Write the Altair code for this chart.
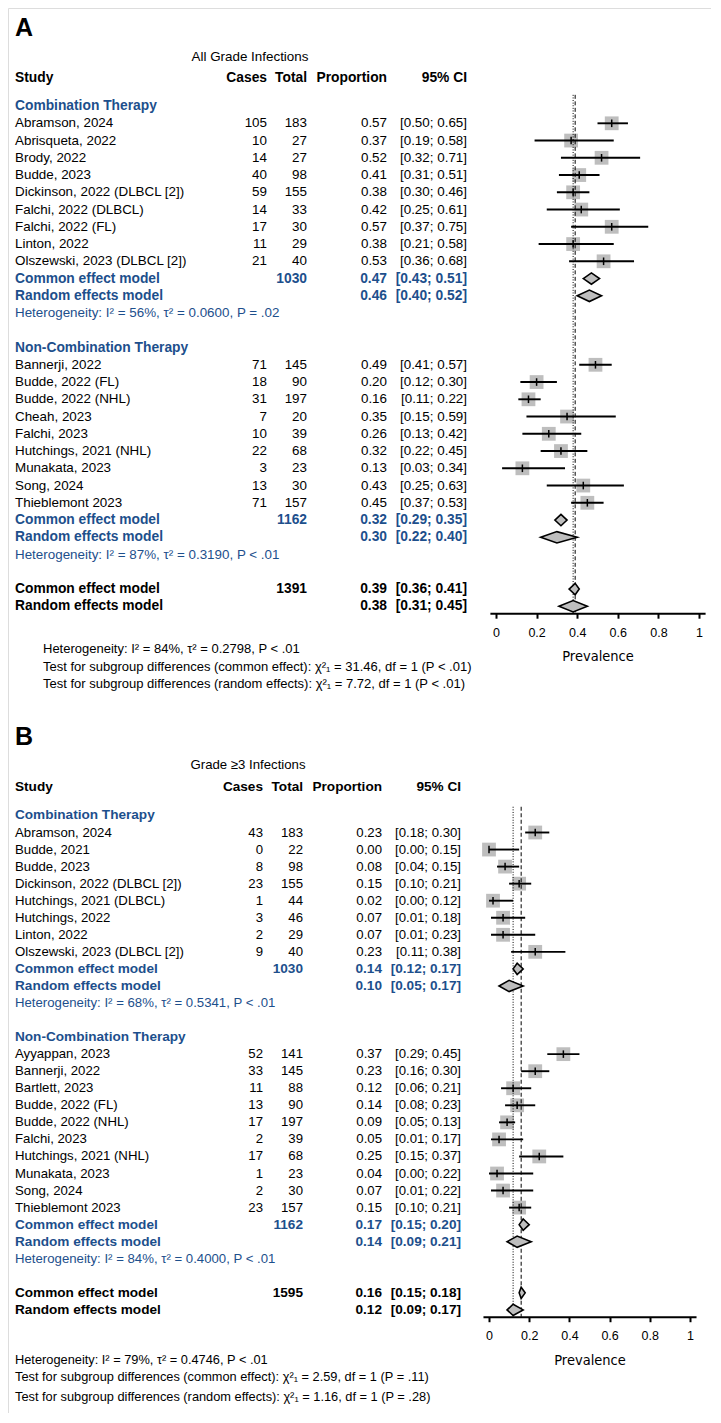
import altair as alt
import pandas as pd

# ============================ PANEL A : All grade infections ============================
A_LETTER = "A"
A_TITLE = "All Grade Infections"
A_G1_NAME = "Combination Therapy"
A_G1_STUDY = ["Abramson, 2024", "Abrisqueta, 2022", "Brody, 2022", "Budde, 2023",
              "Dickinson, 2022 (DLBCL [2])", "Falchi, 2022 (DLBCL)", "Falchi, 2022 (FL)",
              "Linton, 2022", "Olszewski, 2023 (DLBCL [2])"]
A_G1_CASES = [105, 10, 14, 40, 59, 14, 17, 11, 21]
A_G1_TOTAL = [183, 27, 27, 98, 155, 33, 30, 29, 40]
A_G1_PROP = [0.57, 0.37, 0.52, 0.41, 0.38, 0.42, 0.57, 0.38, 0.53]
A_G1_LO = [0.50, 0.19, 0.32, 0.31, 0.30, 0.25, 0.37, 0.21, 0.36]
A_G1_HI = [0.65, 0.58, 0.71, 0.51, 0.46, 0.61, 0.75, 0.58, 0.68]
A_G1_COMMON = [1030, 0.47, 0.43, 0.51]
A_G1_RANDOM = [0.46, 0.40, 0.52]
A_G1_HET = "Heterogeneity: I² = 56%, τ² = 0.0600, P = .02"

A_G2_NAME = "Non-Combination Therapy"
A_G2_STUDY = ["Bannerji, 2022", "Budde, 2022 (FL)", "Budde, 2022 (NHL)", "Cheah, 2023",
              "Falchi, 2023", "Hutchings, 2021 (NHL)", "Munakata, 2023", "Song, 2024",
              "Thieblemont 2023"]
A_G2_CASES = [71, 18, 31, 7, 10, 22, 3, 13, 71]
A_G2_TOTAL = [145, 90, 197, 20, 39, 68, 23, 30, 157]
A_G2_PROP = [0.49, 0.20, 0.16, 0.35, 0.26, 0.32, 0.13, 0.43, 0.45]
A_G2_LO = [0.41, 0.12, 0.11, 0.15, 0.13, 0.22, 0.03, 0.25, 0.37]
A_G2_HI = [0.57, 0.30, 0.22, 0.59, 0.42, 0.45, 0.34, 0.63, 0.53]
A_G2_COMMON = [1162, 0.32, 0.29, 0.35]
A_G2_RANDOM = [0.30, 0.22, 0.40]
A_G2_HET = "Heterogeneity: I² = 87%, τ² = 0.3190, P < .01"

A_ALL_COMMON = [1391, 0.39, 0.36, 0.41]
A_ALL_RANDOM = [0.38, 0.31, 0.45]
A_FOOT = ["Heterogeneity: I² = 84%, τ² = 0.2798, P < .01",
          "Test for subgroup differences (common effect): χ²₁ = 31.46, df = 1 (P < .01)",
          "Test for subgroup differences (random effects): χ²₁ = 7.72, df = 1 (P < .01)"]

# ============================ PANEL B : Grade >=3 infections ============================
B_LETTER = "B"
B_TITLE = "Grade ≥3 Infections"
B_G1_NAME = "Combination Therapy"
B_G1_STUDY = ["Abramson, 2024", "Budde, 2021", "Budde, 2023", "Dickinson, 2022 (DLBCL [2])",
              "Hutchings, 2021 (DLBCL)", "Hutchings, 2022", "Linton, 2022",
              "Olszewski, 2023 (DLBCL [2])"]
B_G1_CASES = [43, 0, 8, 23, 1, 3, 2, 9]
B_G1_TOTAL = [183, 22, 98, 155, 44, 46, 29, 40]
B_G1_PROP = [0.23, 0.00, 0.08, 0.15, 0.02, 0.07, 0.07, 0.23]
B_G1_LO = [0.18, 0.00, 0.04, 0.10, 0.00, 0.01, 0.01, 0.11]
B_G1_HI = [0.30, 0.15, 0.15, 0.21, 0.12, 0.18, 0.23, 0.38]
B_G1_COMMON = [1030, 0.14, 0.12, 0.17]
B_G1_RANDOM = [0.10, 0.05, 0.17]
B_G1_HET = "Heterogeneity: I² = 68%, τ² = 0.5341, P < .01"

B_G2_NAME = "Non-Combination Therapy"
B_G2_STUDY = ["Ayyappan, 2023", "Bannerji, 2022", "Bartlett, 2023", "Budde, 2022 (FL)",
              "Budde, 2022 (NHL)", "Falchi, 2023", "Hutchings, 2021 (NHL)", "Munakata, 2023",
              "Song, 2024", "Thieblemont 2023"]
B_G2_CASES = [52, 33, 11, 13, 17, 2, 17, 1, 2, 23]
B_G2_TOTAL = [141, 145, 88, 90, 197, 39, 68, 23, 30, 157]
B_G2_PROP = [0.37, 0.23, 0.12, 0.14, 0.09, 0.05, 0.25, 0.04, 0.07, 0.15]
B_G2_LO = [0.29, 0.16, 0.06, 0.08, 0.05, 0.01, 0.15, 0.00, 0.01, 0.10]
B_G2_HI = [0.45, 0.30, 0.21, 0.23, 0.13, 0.17, 0.37, 0.22, 0.22, 0.21]
B_G2_COMMON = [1162, 0.17, 0.15, 0.20]
B_G2_RANDOM = [0.14, 0.09, 0.21]
B_G2_HET = "Heterogeneity: I² = 84%, τ² = 0.4000, P < .01"

B_ALL_COMMON = [1595, 0.16, 0.15, 0.18]
B_ALL_RANDOM = [0.12, 0.09, 0.17]
B_FOOT = ["Heterogeneity: I² = 79%, τ² = 0.4746, P < .01",
          "Test for subgroup differences (common effect): χ²₁ = 2.59, df = 1 (P = .11)",
          "Test for subgroup differences (random effects): χ²₁ = 1.16, df = 1 (P = .28)"]

HEADERS = ["Study", "Cases", "Total", "Proportion", "95% CI"]
TICKS = [0, 0.2, 0.4, 0.6, 0.8, 1]

# ============================ styling / layout ============================
FONT = "Liberation Sans"
NARROW = "Liberation Sans Narrow, DejaVu Sans Condensed, Noto Sans, sans-serif"
BLUE = "#1d4f8c"
BLACK = "#000000"
GREY = "#bebebe"
W, H = 703, 1405
M = 8  # page margin

LAYOUT = {
    "A": dict(sp=17.25, row0=123.3, letter=-5.51, title=-3.86, header=-2.61, reftop=-1.65,
              axis=28.4, foot=[30.5, 31.5, 32.5], xs=15, xc=267, xt=307, xp=387, xci=467,
              xtitle=250, xfoot=43, x0=496, x1=699, fs=13.4, fsb=13.8, fsf=13),
    "B": dict(sp=17.05, row0=832.5, letter=-5.62, title=-3.96, header=-2.64, reftop=-1.51,
              axis=28.4, foot=[30.94, 31.94, 33.1], xs=15, xc=263, xt=303, xp=382, xci=461,
              xtitle=248, xfoot=15, x0=489, x1=690, fs=13.2, fsb=13.6, fsf=12.8),
}


def f2(v):
    return f"{v:.2f}"


def build(groups, all_common, all_random):
    recs = []
    r = -1
    for name, st, ca, to, pr, lo, hi, com, ran, het in groups:
        recs.append(dict(row=r, kind="group", label=name))
        r += 1
        for i in range(len(st)):
            recs.append(dict(row=r, kind="study", label=st[i], cases=str(ca[i]), total=str(to[i]),
                             prop=pr[i], lo=lo[i], hi=hi[i], ptxt=f2(pr[i]),
                             citxt=f"[{f2(lo[i])}; {f2(hi[i])}]"))
            r += 1
        recs.append(dict(row=r, kind="sub_model", label="Common effect model", total=str(com[0]),
                         prop=com[1], lo=com[2], hi=com[3], ptxt=f2(com[1]),
                         citxt=f"[{f2(com[2])}; {f2(com[3])}]"))
        r += 1
        recs.append(dict(row=r, kind="sub_model", label="Random effects model",
                         prop=ran[0], lo=ran[1], hi=ran[2], ptxt=f2(ran[0]),
                         citxt=f"[{f2(ran[1])}; {f2(ran[2])}]"))
        r += 1
        recs.append(dict(row=r, kind="sub_het", label=het))
        r += 2
    recs.append(dict(row=r, kind="all_model", label="Common effect model", total=str(all_common[0]),
                     prop=all_common[1], lo=all_common[2], hi=all_common[3], ptxt=f2(all_common[1]),
                     citxt=f"[{f2(all_common[2])}; {f2(all_common[3])}]"))
    r += 1
    recs.append(dict(row=r, kind="all_model", label="Random effects model",
                     prop=all_random[0], lo=all_random[1], hi=all_random[2], ptxt=f2(all_random[0]),
                     citxt=f"[{f2(all_random[1])}; {f2(all_random[2])}]"))
    return pd.DataFrame(recs)


STYLE = {
    "header": (True, BLACK),
    "group": (True, BLUE),
    "study": (False, BLACK),
    "sub_model": (True, BLUE),
    "sub_het": (False, BLUE),
    "all_model": (True, BLACK),
}


def panel(key, letter, title, groups, all_common, all_random, foot):
    L = LAYOUT[key]
    df = build(groups, all_common, all_random)
    hdr = pd.DataFrame([dict(row=L["header"], kind="header", label=HEADERS[0], cases=HEADERS[1],
                             total=HEADERS[2], ptxt=HEADERS[3], citxt=HEADERS[4])])
    df = pd.concat([hdr, df], ignore_index=True)

    top = -(L["row0"] - M) / L["sp"]
    bot = top + H / L["sp"]
    ysc = alt.Scale(domain=[top, bot], reverse=True, nice=False, zero=False)
    Y = alt.Y("row:Q", scale=ysc, axis=None)

    span = L["x1"] - L["x0"]
    xsc = alt.Scale(domain=[-0.03, 1.03], nice=False, zero=False,
                    range=[L["x0"] - M - 0.03 * span, L["x1"] - M + 0.03 * span])
    axis_px = (L["axis"] - top) * L["sp"]
    ax = alt.Axis(orient="bottom", offset=axis_px - H, values=TICKS, format="~g",
                  title="Prevalence", grid=False, domainColor=BLACK, domainWidth=2,
                  tickColor=BLACK, tickWidth=2, tickSize=5, labelFont=FONT, labelFontSize=12.5,
                  labelColor=BLACK, labelPadding=8, labelFlush=False, titleFont=NARROW,
                  titleFontSize=14.5, titleFontWeight="normal", titleColor=BLACK, titlePadding=11)

    layers = []
    cols = [("label", "xs", "left"), ("cases", "xc", "right"), ("total", "xt", "right"),
            ("ptxt", "xp", "right"), ("citxt", "xci", "right")]
    for kind, (bold, color) in STYLE.items():
        sub = df[df["kind"] == kind]
        for col, xk, align in cols:
            s = sub[sub[col].notna()][["row", col]]
            if len(s) == 0:
                continue
            layers.append(
                alt.Chart(s).mark_text(align=align, baseline="middle", font=FONT,
                                       fontSize=L["fsb"] if bold else L["fs"],
                                       fontWeight="bold" if bold else "normal", color=color)
                .encode(x=alt.value(L[xk] - M), y=Y, text=f"{col}:N"))

    # panel letter, title, footnotes
    layers.append(alt.Chart(pd.DataFrame({"row": [L["letter"]], "t": [letter]}))
                  .mark_text(align="left", baseline="middle", font=FONT, fontSize=25,
                             fontWeight="bold", color=BLACK)
                  .encode(x=alt.value(L["xs"] - M), y=Y, text="t:N"))
    layers.append(alt.Chart(pd.DataFrame({"row": [L["title"]], "t": [title]}))
                  .mark_text(align="center", baseline="middle", font=FONT, fontSize=L["fs"],
                             color=BLACK)
                  .encode(x=alt.value(L["xtitle"] - M), y=Y, text="t:N"))
    layers.append(alt.Chart(pd.DataFrame({"row": L["foot"], "t": foot}))
                  .mark_text(align="left", baseline="middle", font=FONT, fontSize=L["fsf"],
                             color=BLACK)
                  .encode(x=alt.value(L["xfoot"] - M), y=Y, text="t:N"))

    studies = df[df["kind"] == "study"]
    models = df[df["kind"].isin(["sub_model", "all_model"])]
    overall = df[df["kind"] == "all_model"]

    # study squares
    layers.append(alt.Chart(studies).mark_square(size=190, color=GREY, opacity=1, filled=True)
                  .encode(x=alt.X("prop:Q", scale=xsc, axis=ax), y=Y))
    # reference lines (common = dashed, random = dotted)
    ref = pd.DataFrame({"x": overall["prop"].tolist(), "y1": [L["reftop"]] * 2,
                        "y2": [L["axis"]] * 2, "m": ["common", "random"]})
    layers.append(alt.Chart(ref[ref["m"] == "common"]).mark_rule(color=BLACK, strokeWidth=1,
                                                                strokeDash=[4, 2.5])
                  .encode(x=alt.X("x:Q", scale=xsc, axis=ax),
                          y=alt.Y("y1:Q", scale=ysc, axis=None), y2="y2:Q"))
    layers.append(alt.Chart(ref[ref["m"] == "random"]).mark_rule(color=BLACK, strokeWidth=1,
                                                                strokeDash=[1, 1.6])
                  .encode(x=alt.X("x:Q", scale=xsc, axis=ax),
                          y=alt.Y("y1:Q", scale=ysc, axis=None), y2="y2:Q"))
    # confidence intervals
    layers.append(alt.Chart(studies).mark_rule(color=BLACK, strokeWidth=1.9)
                  .encode(x=alt.X("lo:Q", scale=xsc, axis=ax), x2="hi:Q", y=Y))
    # estimate ticks
    layers.append(alt.Chart(studies).transform_calculate(y1="datum.row - 0.22", y2="datum.row + 0.22")
                  .mark_rule(color=BLACK, strokeWidth=1.5)
                  .encode(x=alt.X("prop:Q", scale=xsc, axis=ax),
                          y=alt.Y("y1:Q", scale=ysc, axis=None), y2="y2:Q"))
    # diamonds (one polygon per pooled estimate)
    drec = []
    for _, m in models.iterrows():
        drec.append(dict(id=f"d{m['row']}", x=m["lo"], y1=m["row"], y2=m["row"]))
        drec.append(dict(id=f"d{m['row']}", x=m["prop"], y1=m["row"] - 0.33, y2=m["row"] + 0.33))
        drec.append(dict(id=f"d{m['row']}", x=m["hi"], y1=m["row"], y2=m["row"]))
    layers.append(alt.Chart(pd.DataFrame(drec))
                  .mark_area(orient="vertical", fill=GREY, stroke=BLACK, strokeWidth=1.6,
                             opacity=1, fillOpacity=1, interpolate="linear")
                  .encode(x=alt.X("x:Q", scale=xsc, axis=ax, stack=None),
                          y=alt.Y("y1:Q", scale=ysc, axis=None, stack=None), y2="y2:Q",
                          detail="id:N"))
    return alt.layer(*layers)


pA = panel("A", A_LETTER, A_TITLE,
           [(A_G1_NAME, A_G1_STUDY, A_G1_CASES, A_G1_TOTAL, A_G1_PROP, A_G1_LO, A_G1_HI,
             A_G1_COMMON, A_G1_RANDOM, A_G1_HET),
            (A_G2_NAME, A_G2_STUDY, A_G2_CASES, A_G2_TOTAL, A_G2_PROP, A_G2_LO, A_G2_HI,
             A_G2_COMMON, A_G2_RANDOM, A_G2_HET)],
           A_ALL_COMMON, A_ALL_RANDOM, A_FOOT)
pB = panel("B", B_LETTER, B_TITLE,
           [(B_G1_NAME, B_G1_STUDY, B_G1_CASES, B_G1_TOTAL, B_G1_PROP, B_G1_LO, B_G1_HI,
             B_G1_COMMON, B_G1_RANDOM, B_G1_HET),
            (B_G2_NAME, B_G2_STUDY, B_G2_CASES, B_G2_TOTAL, B_G2_PROP, B_G2_LO, B_G2_HI,
             B_G2_COMMON, B_G2_RANDOM, B_G2_HET)],
           B_ALL_COMMON, B_ALL_RANDOM, B_FOOT)

chart = (alt.layer(pA, pB)
         .resolve_scale(x="independent", y="independent")
         .properties(width=W, height=H, padding=0)
         .configure_view(stroke=BLACK, strokeWidth=2)
         .configure(background="white"))

chart.save("out.html", embed_options={"renderer": "svg", "actions": False})
